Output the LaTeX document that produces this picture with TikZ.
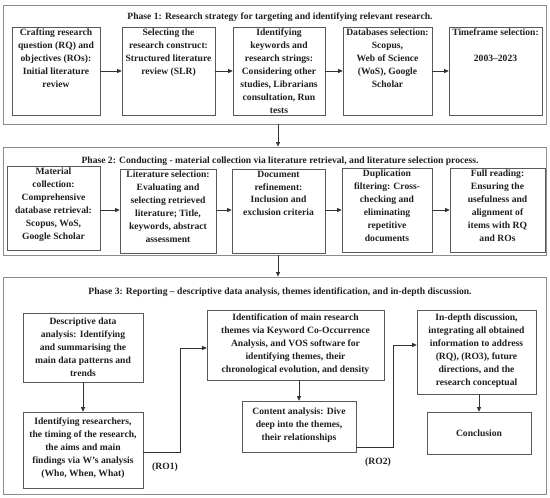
\documentclass[tikz,border=0pt]{standalone}
\usepackage{fontspec}
\setmainfont{Liberation Serif}
\usetikzlibrary{arrows.meta}
\begin{document}
\begin{tikzpicture}[x=1pt,y=-1pt,
  frame/.style={draw=black!45,line width=0.9pt,inner sep=0pt},
  bx/.style={draw=black!65,line width=0.6pt,inner sep=0pt},
  txt/.style={align=center,font=\bfseries\fontsize{9.6}{12.9}\selectfont,text=black!88,inner sep=2pt},
  ttl/.style={font=\bfseries\fontsize{9.6}{12}\selectfont,text=black!88,inner sep=0pt},
  arr/.style={draw=black!80,line width=0.7pt,-{Triangle[length=4.5pt,width=4pt]}}]
\useasboundingbox (0,0) rectangle (550,498);
% frames
\node[frame,minimum width=543,minimum height=119] (ph1) at (274.5,64.5) {};
\node[frame,minimum width=543,minimum height=108] (ph2) at (274.5,201) {};
\node[frame,minimum width=543,minimum height=217] (ph3) at (274.5,385.5) {};
\node[ttl] (t1) at (280,17) {Phase 1: Research strategy for targeting and identifying relevant research.};
\node[ttl] (t2) at (280,161) {Phase 2: Conducting - material collection via literature retrieval, and literature selection process.};
\node[ttl] (t3) at (280,292) {Phase 3: Reporting -- descriptive data analysis, themes identification, and in-depth discussion.};
% phase 1 boxes
\node[bx,minimum width=88,minimum height=88] (p1a) at (56,71) {};
\node[bx,minimum width=93,minimum height=88] (p1b) at (168.5,71) {};
\node[bx,minimum width=92,minimum height=88] (p1c) at (279,71) {};
\node[bx,minimum width=89,minimum height=88] (p1d) at (387.5,71) {};
\node[bx,minimum width=93,minimum height=88] (p1e) at (495.5,71) {};
\node[txt,anchor=north] (p1at) at (p1a.north) {Crafting research\\question (RQ) and\\objectives (ROs):\\Initial literature\\review};
\node[txt,anchor=north] (p1bt) at (p1b.north) {Selecting the\\research construct:\\Structured literature\\review (SLR)};
\node[txt,anchor=north] (p1ct) at (p1c.north) {Identifying\\keywords and\\research strings:\\Considering other\\studies, Librarians\\consultation, Run\\tests};
\node[txt,anchor=north] (p1dt) at (p1d.north) {Databases selection:\\Scopus,\\Web of Science\\(WoS), Google\\Scholar};
\node[txt,anchor=north] (p1et) at (p1e.north) {Timeframe selection:\\[12.9pt]2003--2023};
\draw[arr] (p1a.east) -- (p1a.east -| p1b.west);
\draw[arr] (p1b.east) -- (p1b.east -| p1c.west);
\draw[arr] (p1c.east) -- (p1c.east -| p1d.west);
\draw[arr] (p1d.east) -- (p1d.east -| p1e.west);
% phase 2 boxes
\node[bx,minimum width=93,minimum height=84] (p2a) at (53.5,208) {};
\node[bx,minimum width=96,minimum height=84] (p2b) at (168,211) {};
\node[bx,minimum width=93,minimum height=84] (p2c) at (278.5,211) {};
\node[bx,minimum width=90,minimum height=84] (p2d) at (387,210) {};
\node[bx,minimum width=95,minimum height=84] (p2e) at (497.5,210) {};
\node[txt,anchor=north] (p2at) at (p2a.north) {Material\\collection:\\Comprehensive\\database retrieval:\\Scopus, WoS,\\Google Scholar};
\node[txt,anchor=north] (p2bt) at (p2b.north) {Literature selection:\\Evaluating and\\selecting retrieved\\literature; Title,\\keywords, abstract\\assessment};
\node[txt,anchor=north] (p2ct) at (p2c.north) {Document\\refinement:\\Inclusion and\\exclusion criteria};
\node[txt,anchor=north] (p2dt) at (p2d.north) {Duplication\\filtering: Cross-\\checking and\\eliminating\\repetitive\\documents};
\node[txt,anchor=north] (p2et) at (p2e.north) {Full reading:\\Ensuring the\\usefulness and\\alignment of\\items with RQ\\and ROs};
\coordinate (y2) at (0,210);
\draw[arr] (p2a.east |- y2) -- (p2b.west |- y2);
\draw[arr] (p2b.east |- y2) -- (p2c.west |- y2);
\draw[arr] (p2c.east |- y2) -- (p2d.west |- y2);
\draw[arr] (p2d.east |- y2) -- (p2e.west |- y2);
% phase links
\draw[arr] ([xshift=3.5pt]ph1.south) -- ([xshift=3.5pt]ph2.north);
\draw[arr] ([xshift=3.5pt]ph2.south) -- ([xshift=3.5pt]ph3.north);
% phase 3 boxes
\node[bx,minimum width=120,minimum height=69] (A) at (83,347.5) {};
\node[bx,minimum width=120,minimum height=76] (B) at (83,450) {};
\node[bx,minimum width=177,minimum height=70] (C) at (295.5,345) {};
\node[bx,minimum width=114,minimum height=51] (D) at (299,426.5) {};
\node[bx,minimum width=119,minimum height=84] (E) at (476.5,352) {};
\node[bx,minimum width=104,minimum height=42] (F) at (479,433) {};
\node[txt,anchor=north] (At) at ([yshift=-3pt]A.north) {Descriptive data\\analysis: Identifying\\and summarising the\\main data patterns and\\trends};
\node[txt,anchor=north] (Bt) at ([yshift=-4pt]B.north) {Identifying researchers,\\the timing of the research,\\the aims and main\\findings via W's analysis\\(Who, When, What)};
\node[txt,anchor=north] (Ct) at ([yshift=-2pt]C.north) {Identification of main research\\themes via Keyword Co-Occurrence\\Analysis, and VOS software for\\identifying themes, their\\chronological evolution, and density};
\node[txt,anchor=north] (Dt) at ([yshift=-5pt]D.north) {Content analysis: Dive\\deep into the themes,\\their relationships};
\node[txt,anchor=north] (Et) at ([yshift=-2pt]E.north) {In-depth discussion,\\integrating all obtained\\information to address\\(RQ), (RO3), future\\directions, and the\\research conceptual};
\node[txt] (Ft) at (F.center) {Conclusion};
\draw[arr] (A.south) -- (B.north);
\draw[arr] (C.south -| D.north) -- (D.north);
\draw[arr] (E.south -| F.north) -- (F.north);
\draw[arr] ([yshift=-2pt]B.east) -- ++(37,0) |- ([yshift=-3pt]C.west);
\draw[arr] ([yshift=-21pt]D.east) -- ++(37,0) |- ([yshift=7pt]E.west);
\node[txt] (ro1) at (165,467) {(RO1)};
\node[txt] (ro2) at (378,462) {(RO2)};
\end{tikzpicture}
\end{document}
